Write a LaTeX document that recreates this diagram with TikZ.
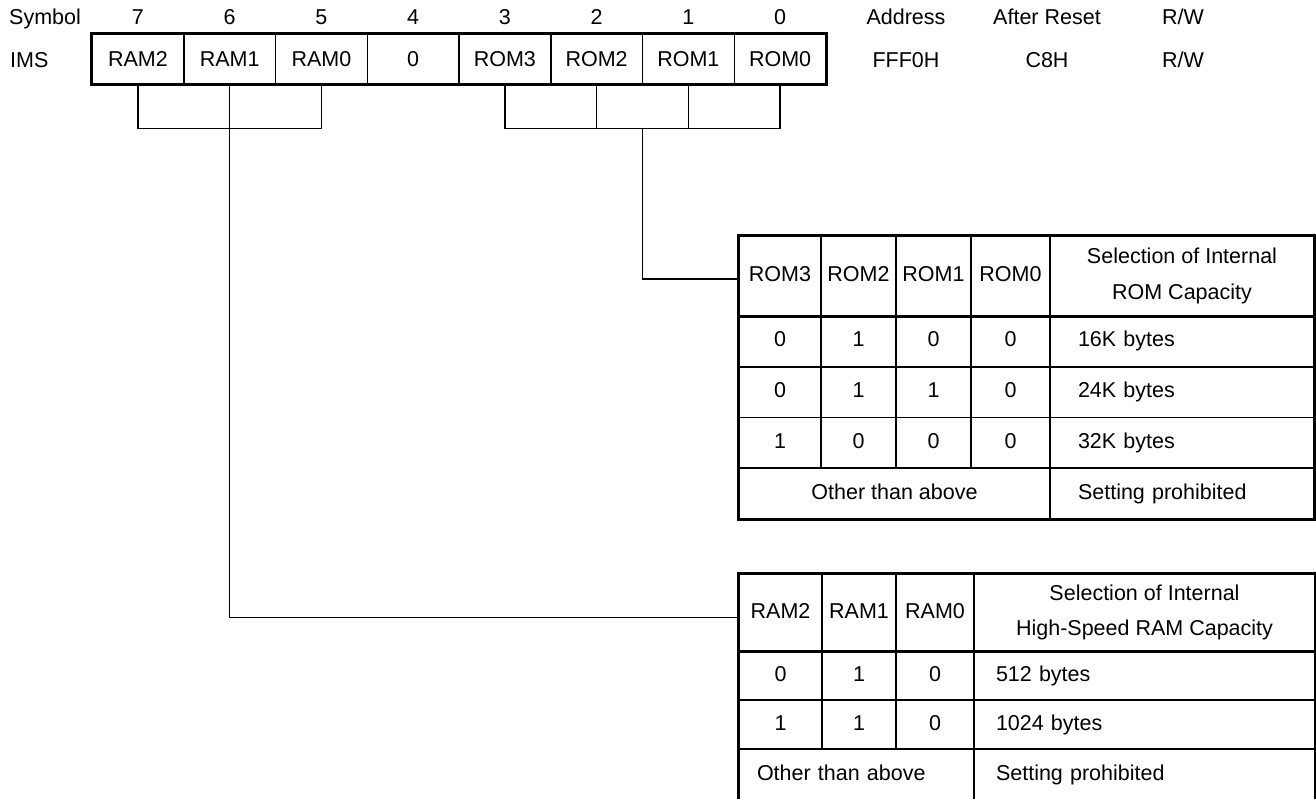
\documentclass[tikz,border=0pt]{standalone}
\usepackage{fontspec}
\setmainfont{Liberation Sans}
\usetikzlibrary{calc}

\begin{document}
\begin{tikzpicture}[
  x=1pt, y=-1pt,
  every node/.style={font=\fontsize{21.5}{25}\selectfont},
  lbl/.style={anchor=base, inner sep=0},
  regcell/.style={draw, line width=1.5pt, inner sep=0,
                  minimum width=91.75pt, minimum height=50pt},
  cell/.style={draw, line width=1.5pt, inner sep=0, align=center},
  row/.style={text height=15.5pt, text depth=4.5pt},
  txt/.style={align=left},
  hdr/.style={align=center, font=\fontsize{21.5}{35.5}\selectfont},
  bord/.style={line width=3pt},
  wire/.style={line width=1.5pt}
]
\useasboundingbox[fill=white] (0,0) rectangle (1316,799);

% Register heading
\node[lbl, anchor=base west] (sym)  at (9,25)  {Symbol};
\node[lbl, anchor=base west] (ims)  at (10,68) {IMS};
\foreach \i in {0,...,7} {
  \pgfmathtruncatemacro\bit{7-\i}
  \node[lbl] (n\i) at ({137.875+91.75*\i},25) {\bit};
}
\node[lbl] (addr)  at (906,25)  {Address};
\node[lbl] (rst)   at (1047,25) {After Reset};
\node[lbl] (rw)    at (1183,25) {R/W};
\node[lbl] (addrv) at (906,68)  {FFF0H};
\node[lbl] (rstv)  at (1047,68) {C8H};
\node[lbl] (rwv)   at (1183,68) {R/W};

% Register bits
\foreach \lbl [count=\i from 0] in {RAM2,RAM1,RAM0,0,ROM3,ROM2,ROM1,ROM0}
  \node[regcell] (b\i) at ({137.875+91.75*\i},59) {\lbl};
\draw[bord] (b0.north west) rectangle (b7.south east);

% ROM capacity table
\foreach \lbl/\cx/\w [count=\i from 0] in {ROM3/780/82, ROM2/858.5/75, ROM1/933.5/75, ROM0/1010.5/79}
  \node[cell, row, minimum width=\w pt, minimum height=80pt] (romh\i) at (\cx,276) {\lbl};
\node[cell, hdr, minimum width=264pt, minimum height=80pt] (romh4) at (1182,276)
  {Selection of Internal\\ROM Capacity};
\foreach \a/\b/\c/\d/\sz [count=\r] in {0/1/0/0/16K, 0/1/1/0/24K, 1/0/0/0/32K} {
  \pgfmathsetmacro\cy{341.4+50.75*(\r-1)}
  \node[cell, row, minimum width=82pt, minimum height=50.75pt] (rom\r a) at (780,\cy)    {\a};
  \node[cell, row, minimum width=75pt, minimum height=50.75pt] (rom\r b) at (858.5,\cy)  {\b};
  \node[cell, row, minimum width=75pt, minimum height=50.75pt] (rom\r c) at (933.5,\cy)  {\c};
  \node[cell, row, minimum width=79pt, minimum height=50.75pt] (rom\r d) at (1010.5,\cy) {\d};
  \node[cell, row, txt, text width=208pt, inner xsep=28pt, minimum height=50.75pt]
    (rom\r e) at (1182,\cy) {\sz\ bytes};
}
\node[cell, row, minimum width=311pt, minimum height=50.75pt] (romoa) at (894.5,493.6) {Other than above};
\node[cell, row, txt, text width=208pt, inner xsep=28pt, minimum height=50.75pt]
  (romob) at (1182,493.6) {Setting prohibited};
\draw[bord] (romh0.north west) rectangle (romob.south east);
\draw[bord] (romh0.south west) -- (romh4.south east);

% RAM capacity table
\foreach \lbl/\cx/\w [count=\i from 0] in {RAM2/780.5/83, RAM1/859/74, RAM0/935/78}
  \node[cell, row, minimum width=\w pt, minimum height=77pt] (ramh\i) at (\cx,612.5) {\lbl};
\node[cell, hdr, minimum width=341pt, minimum height=77pt] (ramh3) at (1144.5,612.5)
  {Selection of Internal\\High-Speed RAM Capacity};
\foreach \a/\b/\c/\sz [count=\r] in {0/1/0/512, 1/1/0/1024} {
  \pgfmathsetmacro\cy{675.5+49*(\r-1)}
  \node[cell, row, minimum width=83pt, minimum height=49pt] (ram\r a) at (780.5,\cy) {\a};
  \node[cell, row, minimum width=74pt, minimum height=49pt] (ram\r b) at (859,\cy)   {\b};
  \node[cell, row, minimum width=78pt, minimum height=49pt] (ram\r c) at (935,\cy)   {\c};
  \node[cell, row, txt, text width=297pt, inner xsep=22pt, minimum height=49pt]
    (ram\r d) at (1144.5,\cy) {\sz\ bytes};
}
\node[cell, row, txt, text width=199pt, inner xsep=18pt, minimum height=52pt] (ramoa) at (856.5,775) {Other than above};
\node[cell, row, txt, text width=297pt, inner xsep=22pt, minimum height=52pt]
  (ramob) at (1144.5,775) {Setting prohibited};
\draw[bord] (ramh0.north west) rectangle (ramob.south east);
\draw[bord] (ramh0.south west) -- (ramh3.south east);

% Connectors
\draw[wire] (b0.south) -- ++(0,44) -| (b2.south);
\draw[wire] (b1.south) |- ([yshift=-5pt]ramh0.west);
\draw[wire] (b4.south) -- ++(0,44) -| (b7.south);
\draw[wire] (b5.south) -- ++(0,44);
\draw[wire] (b6.south) -- ++(0,44);
\coordinate (romtap) at ($(b5.south)!0.5!(b6.south)+(0,44)$);
\draw[wire] (romtap) |- ([yshift=-3pt]romh0.west);
\end{tikzpicture}
\end{document}
